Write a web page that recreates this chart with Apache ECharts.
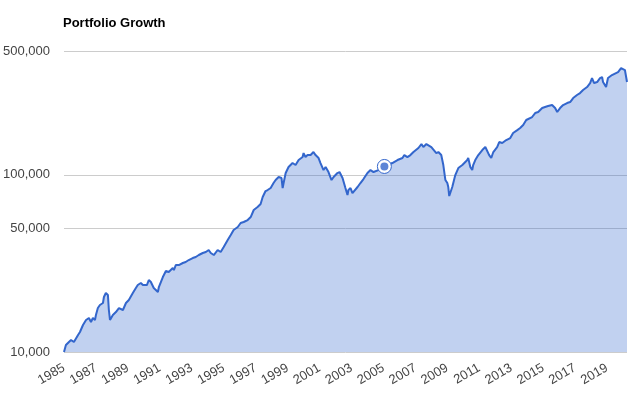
<!DOCTYPE html>
<html>
<head>
<meta charset="utf-8">
<script src="https://cdn.jsdelivr.net/npm/echarts@6/dist/echarts.min.js"></script>
<style>
html,body{margin:0;padding:0;background:#fff;}
#chart{width:640px;height:400px;}
</style>
</head>
<body>
<div id="chart"></div>
<script>
const chartTitle = 'Portfolio Growth';
const dates = [1985.00,1985.12,1985.31,1985.44,1985.62,1985.88,1986.00,1986.19,1986.38,1986.56,1986.69,1986.81,1986.94,1987.00,1987.12,1987.25,1987.44,1987.50,1987.62,1987.75,1987.81,1987.88,1988.06,1988.25,1988.44,1988.69,1988.88,1989.06,1989.31,1989.50,1989.62,1989.81,1989.94,1990.00,1990.19,1990.31,1990.44,1990.62,1990.88,1990.94,1991.19,1991.38,1991.56,1991.81,1991.88,1992.00,1992.19,1992.44,1992.62,1992.81,1993.06,1993.25,1993.44,1993.69,1993.88,1994.06,1994.19,1994.38,1994.62,1994.81,1995.00,1995.25,1995.44,1995.62,1995.88,1996.06,1996.25,1996.50,1996.56,1996.69,1996.88,1997.12,1997.19,1997.31,1997.44,1997.62,1997.75,1997.94,1998.12,1998.25,1998.44,1998.62,1998.69,1998.75,1998.88,1999.06,1999.31,1999.38,1999.50,1999.62,1999.69,1999.94,2000.00,2000.12,2000.25,2000.44,2000.62,2000.75,2000.94,2001.06,2001.25,2001.38,2001.56,2001.75,2001.88,2002.12,2002.25,2002.44,2002.62,2002.75,2002.81,2002.94,2003.06,2003.12,2003.38,2003.56,2003.75,2004.00,2004.19,2004.38,2004.50,2004.69,2004.88,2005.06,2005.25,2005.56,2005.62,2005.88,2005.94,2006.19,2006.31,2006.50,2006.69,2006.88,2007.00,2007.19,2007.38,2007.50,2007.69,2007.81,2008.00,2008.12,2008.31,2008.44,2008.62,2008.75,2008.88,2009.00,2009.06,2009.12,2009.31,2009.50,2009.69,2009.94,2010.00,2010.25,2010.31,2010.44,2010.56,2010.62,2010.75,2010.94,2011.19,2011.38,2011.50,2011.62,2011.75,2011.88,2012.12,2012.25,2012.44,2012.69,2012.94,2013.12,2013.38,2013.56,2013.75,2013.94,2014.06,2014.31,2014.50,2014.69,2014.94,2015.12,2015.31,2015.56,2015.75,2015.88,2016.06,2016.25,2016.50,2016.69,2016.88,2017.12,2017.31,2017.50,2017.75,2017.94,2018.06,2018.19,2018.38,2018.56,2018.69,2018.75,2018.94,2019.06,2019.31,2019.38,2019.56,2019.69,2019.88,2020.00,2020.12,2020.25];
const values = [10000,10950,11390,11690,11390,12470,12970,14200,15160,15550,14760,15550,15160,16170,17710,18420,18900,20440,21530,20970,17260,15160,16170,16810,17710,17260,18900,19660,21530,22970,23880,24510,23880,23270,23880,25490,24830,22970,21810,23270,26500,28650,28280,29790,29020,30970,30970,31790,32210,33050,33920,34370,35270,36200,36670,37640,36200,35270,37640,36670,39130,42870,45750,48810,50750,53460,54160,55580,54160,57790,63310,65830,64960,68430,74930,81010,82070,84240,89890,93480,97190,95920,84240,89890,102370,110700,116580,118100,113600,116580,121200,126000,132700,126000,129300,129300,134500,129300,124400,116580,106400,110700,103700,93480,97190,102370,103700,95920,84240,76910,82070,84240,78930,76910,85350,89890,94700,102370,106400,103700,106400,106400,110700,111500,113600,116580,118100,121200,118100,124400,129300,126000,129300,134500,138000,141700,149200,143500,149200,153100,143500,141700,132700,134500,129300,113600,93480,89890,85350,75920,85350,99750,109200,113600,116580,121200,124400,110700,106400,113600,121200,129300,138000,143500,141700,129300,124400,134500,143500,153100,151200,157200,161300,172200,178900,183700,191000,203900,209200,212000,223300,226200,238200,241300,244500,247700,238200,226200,238200,247700,254200,257500,271300,282100,289500,301000,313000,329700,351800,329700,334000,351800,356400,334000,313000,351800,365800,375400,375400,380300,400600,405900,390400,334000];
const highlightDate = [2005.06];
const highlightValue = [111500];
const xTickYears = [1985,1987,1989,1991,1993,1995,1997,1999,2001,2003,2005,2007,2009,2011,2013,2015,2017,2019];
const yTickValues = [10000,50000,100000,500000];

const lineData = dates.map((d, i) => [d, values[i]]);
const hiData = highlightDate.map((d, i) => [d, highlightValue[i]]);
const blue = '#3366cc';
const font = 'Arial, "Liberation Sans", sans-serif';

const chart = echarts.init(document.getElementById('chart'), null, {renderer: 'canvas'});
chart.setOption({
  animation: false,
  backgroundColor: '#ffffff',
  title: {
    text: chartTitle, left: 63, top: 17, padding: 0,
    textStyle: {fontFamily: font, fontSize: 13, fontWeight: 'bold', color: '#000'}
  },
  grid: {left: 63, right: 13, top: 51, bottom: 48, containLabel: false},
  xAxis: {
    type: 'value', min: 1985, max: 2020.25,
    axisLine: {show: false}, axisTick: {show: false}, splitLine: {show: false},
    axisLabel: {
      customValues: xTickYears, rotate: 30, margin: 15,
      fontFamily: font, fontSize: 13, color: '#444',
      formatter: v => String(v)
    }
  },
  yAxis: {
    type: 'log', logBase: 10, min: 10000, max: 500000,
    axisLine: {show: false},
    axisTick: {show: false, customValues: yTickValues},
    splitLine: {show: true, lineStyle: {color: '#cccccc', width: 1}},
    axisLabel: {
      customValues: yTickValues, margin: 14,
      fontFamily: font, fontSize: 13, color: '#444',
      formatter: v => Math.round(v).toLocaleString('en-US')
    }
  },
  series: [
    {
      type: 'line', data: lineData, showSymbol: false, smooth: false,
      lineStyle: {color: blue, width: 2},
      itemStyle: {color: blue},
      areaStyle: {color: blue, opacity: 0.3, origin: 'start'},
      z: 2
    },
    {
      type: 'scatter', data: hiData, symbolSize: 14,
      itemStyle: {color: '#ffffff', borderColor: blue, borderWidth: 1, opacity: 1},
      z: 3
    },
    {
      type: 'scatter', data: hiData, symbolSize: 8,
      itemStyle: {color: blue},
      z: 4
    }
  ]
});
</script>
</body>
</html>
